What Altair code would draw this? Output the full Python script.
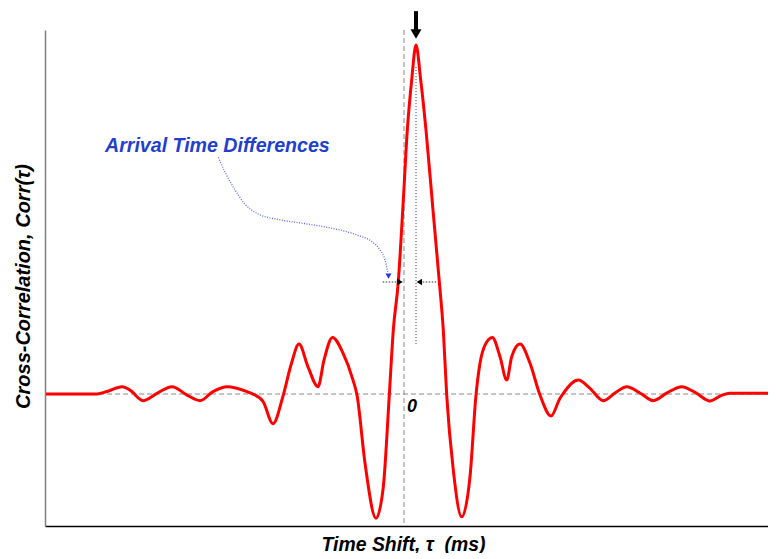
import altair as alt
import pandas as pd

# ---- main cross-correlation curve (time shift in ms, correlation with peak = 1)
t_ms = [-3.58, -3.07, -2.97, -2.82, -2.74, -2.61, -2.47, -2.32, -2.17, -2.04,
        -1.91, -1.77, -1.57, -1.52, -1.41, -1.31, -1.21, -1.13, -1.05, -0.96,
        -0.86, -0.80, -0.715, -0.61, -0.51, -0.47, -0.39, -0.28, -0.207, -0.147,
        -0.107, -0.057, -0.01, 0.033, 0.077, 0.12, 0.167, 0.22, 0.29, 0.353,
        0.393, 0.427, 0.493, 0.577, 0.66, 0.72, 0.76, 0.81, 0.883, 0.96,
        1.027, 1.077, 1.16, 1.26, 1.36, 1.47, 1.56, 1.593, 1.743, 1.86,
        1.993, 2.11, 2.227, 2.36, 2.493, 2.63, 2.777, 2.92, 3.06, 3.18,
        3.26, 3.72]
corr = [0.0, 0.0, 0.007, 0.021, 0.011, -0.019, 0.002, 0.021, -0.003, -0.019,
        0.007, 0.021, 0.007, 0.001, -0.021, -0.085, -0.006, 0.083, 0.143, 0.078,
        0.021, 0.097, 0.162, 0.117, 0.040, -0.003, -0.198, -0.356, -0.266, -0.003,
        0.183, 0.322, 0.54, 0.756, 0.900, 1.0, 0.900, 0.756, 0.527, 0.322,
        0.183, -0.003, -0.218, -0.352, -0.237, -0.003, 0.088, 0.140, 0.162, 0.107,
        0.040, 0.107, 0.143, 0.088, -0.003, -0.063, -0.012, 0.002, 0.040, 0.016,
        -0.019, 0.003, 0.021, 0.003, -0.019, 0.003, 0.021, 0.003, -0.020, -0.003,
        0.002, 0.002]

# ---- annotation values
peak_t = [0.12]
peak_marker_y = [0.143, 0.94]          # dotted vertical under the peak
top_arrow_y = [1.097, 1.043]           # shaft of the big arrow above the peak
top_arrow_head_y = [1.0315]
diff_y = [0.321]                       # level of the small arrows
left_dots_t = [-0.213, -0.073]
right_dots_t = [0.187, 0.327]
left_head_t = [-0.04]
right_head_t = [0.153]
callout_t = [-1.857, -1.79, -1.69, -1.59, -1.473, -1.24, -1.01, -0.74, -0.473,
             -0.32, -0.24, -0.19, -0.163]
callout_y = [0.678, 0.636, 0.585, 0.544, 0.518, 0.499, 0.489, 0.476, 0.456,
             0.436, 0.413, 0.384, 0.350]
callout_head = [(-0.155, 0.338)]
label_text = ["Arrival Time Differences"]
label_pos = [(-2.99, 0.711)]
zero_label = ["0"]
zero_label_pos = [(0.08, -0.037)]

x_title = "Time Shift, \u03c4 \u00a0(ms)"
y_title = "Cross-Correlation, Corr(\u03c4)"

FONT = "Liberation Sans"
xs = alt.Scale(domain=[-3.59, 3.64], nice=False, zero=False)
ys = alt.Scale(domain=[-0.3782, 1.043], nice=False, zero=False)

ax_x = alt.Axis(domain=True, ticks=False, labels=False, grid=False,
                domainColor="#000000", domainWidth=1.5,
                title=x_title, titleFont=FONT, titleFontSize=19.4,
                titleFontWeight="bold", titleFontStyle="italic",
                titleColor="#000000", titleX=358, titleY=24,
                titleAlign="center", titleBaseline="alphabetic")
ax_y = alt.Axis(domain=True, ticks=False, labels=False, grid=False,
                domainColor="#808080", domainWidth=1.5,
                title=y_title, titleFont=FONT, titleFontSize=20,
                titleFontWeight="bold", titleFontStyle="italic",
                titleColor="#000000", titleX=-22, titleY=256,
                titleAngle=270, titleAlign="center",
                titleBaseline="middle")


def X(f, **kw):
    return alt.X(f, type="quantitative", scale=xs, axis=ax_x, **kw)


def Y(f, **kw):
    return alt.Y(f, type="quantitative", scale=ys, axis=ax_y, **kw)


curve_df = pd.DataFrame({"t": t_ms, "corr": corr})

zero_h = alt.Chart(pd.DataFrame({"y": [0.0]})).mark_rule(
    color="#8a8a8a", strokeDash=[5, 3], strokeWidth=1
).encode(y=Y("y"))

zero_v = alt.Chart(pd.DataFrame({"t": [0.0]})).mark_rule(
    color="#8a8a8a", strokeDash=[5, 3], strokeWidth=1
).encode(x=X("t"))

peak_v = alt.Chart(pd.DataFrame({"t": peak_t, "y": [peak_marker_y[0]], "y2": [peak_marker_y[1]]})).mark_rule(
    color="#333333", strokeDash=[1, 2], strokeWidth=1
).encode(x=X("t"), y=Y("y"), y2="y2")

curve = alt.Chart(curve_df).mark_line(
    color="#ff0000", strokeWidth=3, interpolate="monotone", clip=True
).encode(x=X("t"), y=Y("corr"))

shaft = alt.Chart(pd.DataFrame({"t": peak_t, "y": [top_arrow_y[0]], "y2": [top_arrow_y[1]]})).mark_rule(
    color="#000000", strokeWidth=4
).encode(x=X("t"), y=Y("y"), y2="y2")

shaft_head = alt.Chart(pd.DataFrame({"t": peak_t, "y": top_arrow_head_y})).mark_point(
    shape="triangle-down", filled=True, size=121, color="#000000", opacity=1
).encode(x=X("t"), y=Y("y"))

left_dots = alt.Chart(pd.DataFrame({"t": [left_dots_t[0]], "t2": [left_dots_t[1]], "y": diff_y})).mark_rule(
    color="#777777", strokeDash=[1.5, 1.5], strokeWidth=1.5
).encode(x=X("t"), x2="t2", y=Y("y"))

right_dots = alt.Chart(pd.DataFrame({"t": [right_dots_t[0]], "t2": [right_dots_t[1]], "y": diff_y})).mark_rule(
    color="#777777", strokeDash=[1.5, 1.5], strokeWidth=1.5
).encode(x=X("t"), x2="t2", y=Y("y"))

left_head = alt.Chart(pd.DataFrame({"t": left_head_t, "y": diff_y})).mark_point(
    shape="triangle-right", filled=True, size=40, color="#000000", opacity=1
).encode(x=X("t"), y=Y("y"))

right_head = alt.Chart(pd.DataFrame({"t": right_head_t, "y": diff_y})).mark_point(
    shape="triangle-left", filled=True, size=40, color="#000000", opacity=1
).encode(x=X("t"), y=Y("y"))

callout_df = pd.DataFrame({"t": callout_t, "y": callout_y, "o": list(range(len(callout_t)))})
callout = alt.Chart(callout_df).mark_line(
    color="#5a66ff", strokeDash=[1, 1.5], strokeWidth=1.3, interpolate="monotone"
).encode(x=X("t"), y=Y("y"), order="o:Q")

callout_arrow = alt.Chart(pd.DataFrame({"t": [callout_head[0][0]], "y": [callout_head[0][1]]})).mark_point(
    shape="triangle-down", filled=True, size=36, color="#2233ee", opacity=1
).encode(x=X("t"), y=Y("y"))

label = alt.Chart(pd.DataFrame({"t": [label_pos[0][0]], "y": [label_pos[0][1]], "txt": label_text})).mark_text(
    font=FONT, fontSize=19.6, fontWeight="bold", fontStyle="italic",
    color="#1f3fcf", align="left", baseline="middle"
).encode(x=X("t"), y=Y("y"), text="txt:N")

zlabel = alt.Chart(pd.DataFrame({"t": [zero_label_pos[0][0]], "y": [zero_label_pos[0][1]], "txt": zero_label})).mark_text(
    font=FONT, fontSize=18, fontWeight="bold", fontStyle="italic",
    color="#000000", align="center", baseline="middle"
).encode(x=X("t"), y=Y("y"), text="txt:N")

chart = alt.layer(
    zero_h, zero_v, peak_v, left_dots, right_dots, curve, shaft, shaft_head,
    left_head, right_head, callout, callout_arrow, label, zlabel
).properties(
    width=723, height=496,
    padding={"left": 37, "top": 22, "right": 0, "bottom": 27},
    autosize=alt.AutoSizeParams(type="none"),
    background="white",
).configure_view(stroke=None)

chart.save("out.html", embed_options={"renderer": "svg", "actions": False})
